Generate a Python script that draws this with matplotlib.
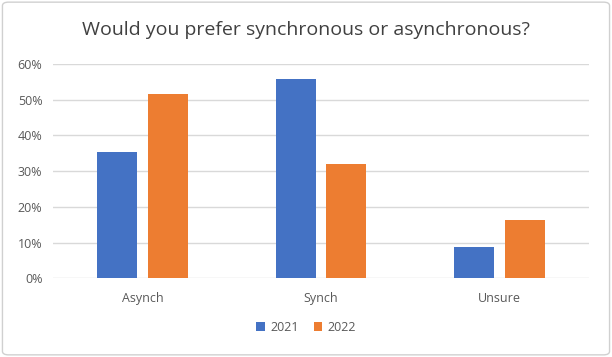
import matplotlib
matplotlib.use("Agg")
import matplotlib.pyplot as plt
import numpy as np
from matplotlib.patches import FancyBboxPatch
from matplotlib.ticker import PercentFormatter

categories = ["Asynch", "Synch", "Unsure"]
series_names = ["2021", "2022"]
values_2021 = [0.353, 0.557, 0.087]
values_2022 = [0.515, 0.319, 0.162]
colors = ["#4472C4", "#ED7D31"]

plt.rcParams['font.family'] = ['Open Sans', 'DejaVu Sans']

fig = plt.figure(figsize=(6.12, 3.57), dpi=100)
ax = fig.add_axes([0.0874, 0.2204, 0.8746, 0.6003])

x = np.arange(len(categories))
w = 0.224
off = 0.142
ax.bar(x - off, values_2021, w, color=colors[0], label=series_names[0], zorder=3)
ax.bar(x + off, values_2022, w, color=colors[1], label=series_names[1], zorder=3)

ax.set_xlim(-0.5, len(categories) - 0.5)
ax.set_ylim(0, 0.6)
ax.set_yticks(np.arange(0, 0.61, 0.1))
ax.yaxis.set_major_formatter(PercentFormatter(1.0, decimals=0))
ax.set_xticks(x)
ax.set_xticklabels(categories)
ax.grid(axis='y', color='#D9D9D9', linewidth=1, zorder=0)
for s in ax.spines.values():
    s.set_visible(False)
ax.tick_params(axis='both', length=0, colors='#595959', labelsize=9)
ax.tick_params(axis='x', pad=10)
ax.tick_params(axis='y', pad=8)

fig.text(0.5, 0.915, "Would you prefer synchronous or asynchronous?", ha='center', va='center',
         fontsize=14, color='#404040')

leg = fig.legend(loc='center', bbox_to_anchor=(0.5, 0.083), ncol=2, frameon=False,
                 fontsize=9, handlelength=0.7, handleheight=0.7, columnspacing=1.2,
                 handletextpad=0.4, labelcolor='#595959')

border = FancyBboxPatch((0.004, 0.006), 0.992, 0.988, boxstyle="round,pad=0,rounding_size=0.01",
                        transform=fig.transFigure, fill=False, edgecolor='#D0D0D0', linewidth=1)
fig.patches.append(border)

fig.savefig("out.png", dpi=100)
